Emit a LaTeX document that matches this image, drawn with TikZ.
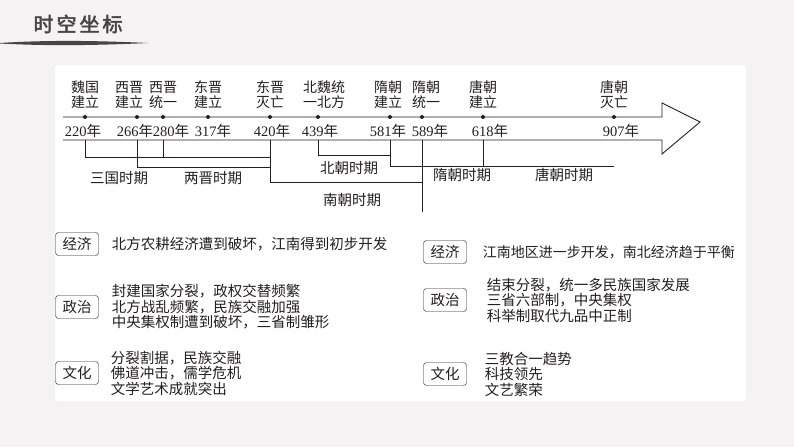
\documentclass[tikz,border=0pt]{standalone}
\usepackage{fontspec}
\setmainfont{Liberation Serif}
\newfontfamily\cjk{Noto Sans CJK SC}
\newfontfamily\cjkbold[FakeBold=2.5]{Noto Sans CJK SC}
\usetikzlibrary{positioning}
\definecolor{pagebg}{HTML}{F4F2F3}
\definecolor{ink}{HTML}{231F20}
\definecolor{titlegray}{HTML}{454545}
\newcommand{\nian}[1]{{\rmfamily #1}年}

\begin{document}
\begin{tikzpicture}[x=1pt,y=-1pt,
 dot/.style={circle,fill=ink,inner sep=0pt,minimum size=4pt},
 evt/.style={font=\cjk\fontsize{14}{15}\selectfont,align=center,inner sep=0pt,text=ink},
 yr/.style={font=\cjk\fontsize{14.5}{15}\selectfont,inner sep=0pt,text=ink},
 per/.style={font=\cjk\fontsize{14.5}{15}\selectfont,inner sep=0pt,text=ink},
 brk/.style={draw=ink,line width=0.9pt},
 tag/.style={draw=ink,rounded corners=3pt,minimum width=43pt,minimum height=23pt,inner sep=0pt,
   font=\cjk\fontsize{14.5}{15}\selectfont,text=ink},
 note/.style={font=\cjk\fontsize{14.5}{15.5}\selectfont,align=left,inner sep=0pt,anchor=west,text=ink}]
% page and panel
\fill[pagebg] (0,0) rectangle (794,447);
\fill[white,rounded corners=3pt] (55,65) rectangle (746,401);
% title
\node[font=\cjkbold\fontsize{20}{20}\selectfont,text=titlegray] (title) at (78,24)
  {时\hspace{3pt}空\hspace{3pt}坐\hspace{3pt}标};
\fill[titlegray] (0,43) .. controls (45,40) and (95,40.5) .. (148,43)
  .. controls (95,45.5) and (45,46) .. (0,43.5) -- cycle;
% timeline arrow
\draw[ink,line width=0.9pt] (63,117) -- (662,117) -- (662,103) -- (700,122)
  -- (662,154) -- (662,140) -- (63,140);
% dots
\node[dot] (d220) at (85,117) {};
\node[dot] (d266) at (137,117) {};
\node[dot] (d280) at (163,117) {};
\node[dot] (d317) at (208,117) {};
\node[dot] (d420) at (270,117) {};
\node[dot] (d439) at (318,117) {};
\node[dot] (d581) at (390,117) {};
\node[dot] (d589) at (422,117) {};
\node[dot] (d618) at (483,117) {};
\node[dot] (d907) at (614,117) {};
% events
\node[evt,above=6pt of d220] (e220) {魏国\\建立};
\node[evt,above=6pt of d266,xshift=-8pt] (e266) {西晋\\建立};
\node[evt,above=6pt of d280] (e280) {西晋\\统一};
\node[evt,above=6pt of d317] (e317) {东晋\\建立};
\node[evt,above=6pt of d420] (e420) {东晋\\灭亡};
\node[evt,above=6pt of d439,xshift=6pt] (e439) {北魏统\\一北方};
\node[evt,above=6pt of d581,xshift=-2pt] (e581) {隋朝\\建立};
\node[evt,above=6pt of d589,xshift=4pt] (e589) {隋朝\\统一};
\node[evt,above=6pt of d618] (e618) {唐朝\\建立};
\node[evt,above=6pt of d907] (e907) {唐朝\\灭亡};
% years
\node[yr,below=5pt of d220,xshift=-2pt] (y220) {\nian{220}};
\node[yr,below=5pt of d266,xshift=-2pt] (y266) {\nian{266}};
\node[yr,below=5pt of d280,xshift=8pt] (y280) {\nian{280}};
\node[yr,below=5pt of d317,xshift=5pt] (y317) {\nian{317}};
\node[yr,below=5pt of d420,xshift=2pt] (y420) {\nian{420}};
\node[yr,below=5pt of d439,xshift=2pt] (y439) {\nian{439}};
\node[yr,below=5pt of d581,xshift=-2pt] (y581) {\nian{581}};
\node[yr,below=5pt of d589,xshift=8pt] (y589) {\nian{589}};
\node[yr,below=5pt of d618,xshift=7pt] (y618) {\nian{618}};
\node[yr,below=5pt of d907,xshift=7pt] (y907) {\nian{907}};
% bracket feet on the lower line
\coordinate (b220) at (d220 |- 0,140);
\coordinate (b266) at (d266 |- 0,140);
\coordinate (b280) at (d280 |- 0,140);
\coordinate (b420) at (d420 |- 0,140);
\coordinate (b439) at (d439 |- 0,140);
\coordinate (b581) at (d581 |- 0,140);
\coordinate (b589) at (d589 |- 0,140);
\coordinate (b618) at (d618 |- 0,140);
\coordinate (b907) at (d907 |- 0,140);
\draw[brk] (b220) |- ([yshift=-17pt]b420);
\draw[brk] (b280) -- ++(0,17);
\draw[brk] (b266) |- ([yshift=-27pt]b420);
\draw[brk] (b420) |- ([yshift=-42pt]b589);
\draw[brk] (b439) |- ([yshift=-15pt]b581);
\draw[brk] (b581) |- ([yshift=-26pt]b907);
\draw[brk] (b618) -- ++(0,26);
\draw[brk] (b589) -- ++(0,72);
% periods
\node[per] (sanguo) at (119,178) {三国时期};
\node[per] (liangjin) at (213,178) {两晋时期};
\node[per] (beichao) at (349,168) {北朝时期};
\node[per] (nanchao) at (352,200) {南朝时期};
\node[per] (suichao) at (462,175) {隋朝时期};
\node[per] (tangchao) at (564,175) {唐朝时期};
% left column
\node[tag] (econL) at (77,244) {经济};
\node[note,right=13pt of econL] (econLt) {北方农耕经济遭到破坏，江南得到初步开发};
\node[tag] (poliL) at (77,307) {政治};
\node[note,right=13pt of poliL] (poliLt) {封建国家分裂，政权交替频繁\\北方战乱频繁，民族交融加强\\中央集权制遭到破坏，三省制雏形};
\node[tag] (cultL) at (77,373) {文化};
\node[note,right=12pt of cultL] (cultLt) {分裂割据，民族交融\\佛道冲击，儒学危机\\文学艺术成就突出};
% right column
\node[tag] (econR) at (445,252) {经济};
\node[note,right=16pt of econR,font=\cjk\fontsize{14}{15}\selectfont] (econRt) {江南地区进一步开发，南北经济趋于平衡};
\node[tag] (poliR) at (445,300) {政治};
\node[note,right=20pt of poliR] (poliRt) {结束分裂，统一多民族国家发展\\三省六部制，中央集权\\科举制取代九品中正制};
\node[tag] (cultR) at (445,374) {文化};
\node[note,right=18pt of cultR] (cultRt) {三教合一趋势\\科技领先\\文艺繁荣};
\end{tikzpicture}
\end{document}
